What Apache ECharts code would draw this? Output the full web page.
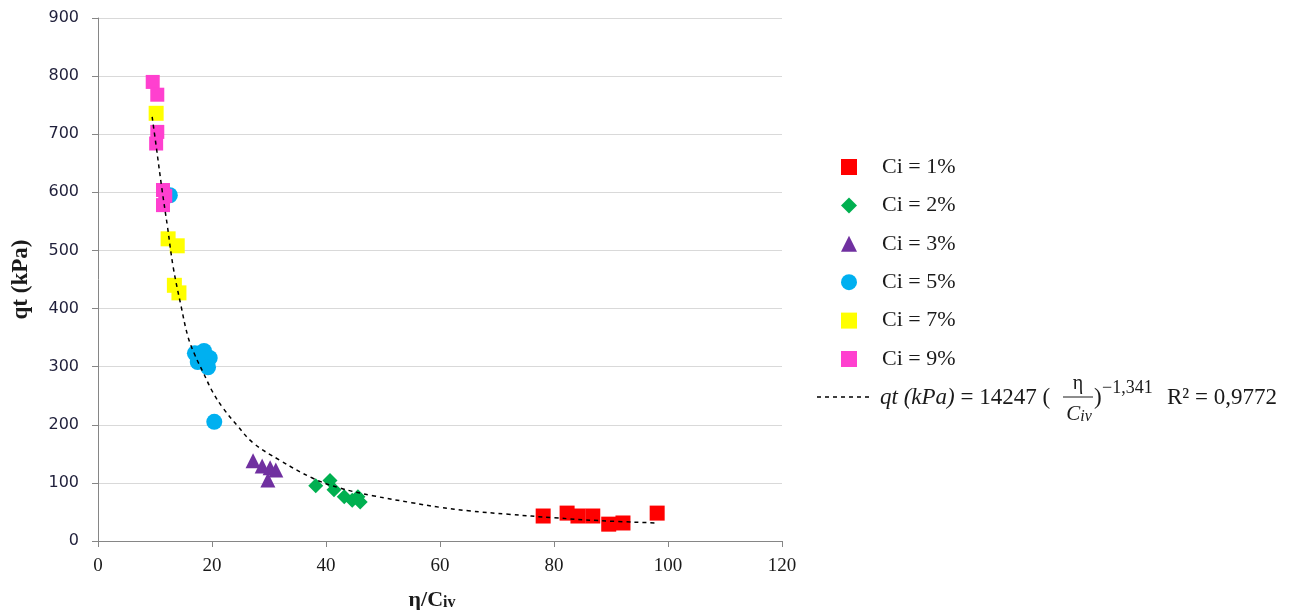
<!DOCTYPE html>
<html><head><meta charset="utf-8">
<script src="https://cdn.jsdelivr.net/npm/echarts@6/dist/echarts.min.js"></script>
<style>html,body{margin:0;padding:0;background:#fff}#c{width:1297px;height:610px}</style>
</head><body><div id="c"></div>
<script>
const xTicks = [0, 20, 40, 60, 80, 100, 120];
const yTicks = [0, 100, 200, 300, 400, 500, 600, 700, 800, 900];
const seriesNames = ['Ci = 1%', 'Ci = 2%', 'Ci = 3%', 'Ci = 5%', 'Ci = 7%', 'Ci = 9%'];
const ci1 = [[78.1,43],[82.3,48],[84.2,43],[86.8,43],[89.6,29],[92.1,31],[98.1,48]];
const ci2 = [[38.2,95],[40.7,104],[41.4,88],[43.2,76],[44.6,70],[45.6,76],[46.0,67]];
const ci3 = [[27.2,138],[28.8,129],[30.2,126],[31.2,122],[29.8,105]];
const ci5 = [[12.6,595],[17.0,323],[18.6,327],[19.6,315],[17.5,308],[19.3,299],[20.4,205]];
const ci7 = [[10.2,736],[12.3,520],[13.9,508],[13.4,440],[14.2,427]];
const ci9 = [[9.6,790],[10.4,768],[10.4,704],[10.2,684],[11.4,604],[11.8,594],[11.4,578]];
const trend = [[9.5,730],[10.2,680],[11.2,607],[12.2,540],[13.2,471],[14.6,403],[15.8,351],[17,320],[18.4,291],[20.2,255],[22,228],[24.4,199],[27.2,169],[31.9,139],[37.7,108],[42.5,91],[48.2,78],[55,66],[60,58],[65,52],[72,46],[80,40],[88,35],[98,31]];
const trendLabel = { pre: 'qt (kPa)', mid: ' = 14247 (', num: 'η', den: 'C', denSub: 'iv', close: ')', exp: '−1,341', r2: 'R² = 0,9772' };

const colors = ['#FF0000', '#00B050', '#7030A0', '#00B0F0', '#FFFF00', '#FF40CF'];
const symbols = ['rect', 'diamond', 'triangle', 'circle', 'rect', 'rect'];
const sizes = [15, 15, 15, 16, 15, 14];
const datasets = [ci1, ci2, ci3, ci5, ci7, ci9];

const chart = echarts.init(document.getElementById('c'));
const series = datasets.map((d, i) => ({
  name: seriesNames[i], type: 'scatter', data: d, symbol: symbols[i], symbolSize: sizes[i],
  itemStyle: { color: colors[i], opacity: 1 }, z: 2
}));
series.push({
  name: 'trend', type: 'line', data: trend, smooth: 0.4, showSymbol: false, symbol: 'none',
  lineStyle: { color: '#000', width: 1.5, type: [4, 4] }, z: 5, silent: true
});

const serif = 'Liberation Serif';
const txt = '#1a1a1a';
chart.setOption({
  animation: false,
  grid: { left: 98, right: 515, top: 18, bottom: 69, containLabel: false, outerBoundsMode: 'none' },
  xAxis: {
    type: 'value', min: 0, max: 120, interval: 20,
    name: '{a|η/C}{b|iv}', nameLocation: 'middle', nameGap: 48,
    nameTextStyle: { padding: [0, 16, 0, 0], rich: {
      a: { fontFamily: serif, fontWeight: 'bold', fontSize: 22, color: txt },
      b: { fontFamily: serif, fontWeight: 'bold', fontSize: 16, color: txt, padding: [5, 0, 0, 0] } } },
    axisLine: { lineStyle: { color: '#868686', width: 1 } },
    axisTick: { show: true, length: 6, lineStyle: { color: '#868686' } },
    axisLabel: { fontFamily: serif, fontSize: 19, color: txt, margin: 16,
      formatter: v => xTicks.includes(v) ? String(v) : '' },
    splitLine: { show: false }
  },
  yAxis: {
    type: 'value', min: 0, max: 900, interval: 100,
    name: 'qt (kPa)', nameLocation: 'middle', nameGap: 65, nameRotate: 90,
    nameTextStyle: { fontFamily: serif, fontWeight: 'bold', fontSize: 23, color: txt },
    axisLine: { show: true, lineStyle: { color: '#868686', width: 1 } },
    axisTick: { show: true, length: 6, lineStyle: { color: '#868686' } },
    axisLabel: { fontFamily: 'DejaVu Sans', fontSize: 16, color: '#1f1f3a', margin: 19,
      formatter: v => yTicks.includes(v) ? String(v) : '' },
    splitLine: { show: true, lineStyle: { color: '#d9d9d9', width: 1 } }
  },
  legend: {
    data: seriesNames, orient: 'vertical', left: 836, top: 151,
    itemWidth: 16, itemHeight: 16, itemGap: 16.4,
    textStyle: { fontFamily: serif, fontSize: 22, color: txt, padding: [0, 0, 0, 20] }
  },
  graphic: [
    { type: 'line', shape: { x1: 817, y1: 397, x2: 870, y2: 397 }, style: { stroke: '#000', lineWidth: 1.5, lineDash: [4, 4] } },
    { type: 'text', x: 880, y: 398, style: { text: '{i|' + trendLabel.pre + '}{n|' + trendLabel.mid + '}', verticalAlign: 'middle',
      rich: { i: { fontFamily: serif, fontStyle: 'italic', fontSize: 23, fill: txt },
              n: { fontFamily: serif, fontSize: 23, fill: txt } } } },
    { type: 'text', x: 1078, y: 384, style: { text: trendLabel.num, fontFamily: serif, fontSize: 20, fill: txt, align: 'center', verticalAlign: 'middle' } },
    { type: 'line', shape: { x1: 1063, y1: 397, x2: 1093, y2: 397 }, style: { stroke: txt, lineWidth: 1 } },
    { type: 'text', x: 1079, y: 414, style: { text: '{c|' + trendLabel.den + '}{s|' + trendLabel.denSub + '}', align: 'center', verticalAlign: 'middle',
      rich: { c: { fontFamily: serif, fontStyle: 'italic', fontSize: 21, fill: txt },
              s: { fontFamily: serif, fontStyle: 'italic', fontSize: 16, fill: txt, padding: [6, 0, 0, 0] } } } },
    { type: 'text', x: 1094, y: 398, style: { text: trendLabel.close, fontFamily: serif, fontSize: 23, fill: txt, verticalAlign: 'middle' } },
    { type: 'text', x: 1102, y: 388, style: { text: trendLabel.exp, fontFamily: serif, fontSize: 18, fill: txt, verticalAlign: 'middle' } },
    { type: 'text', x: 1167, y: 398, style: { text: trendLabel.r2, fontFamily: serif, fontSize: 23, fill: txt, verticalAlign: 'middle' } }
  ],
  series: series
});
</script></body></html>
